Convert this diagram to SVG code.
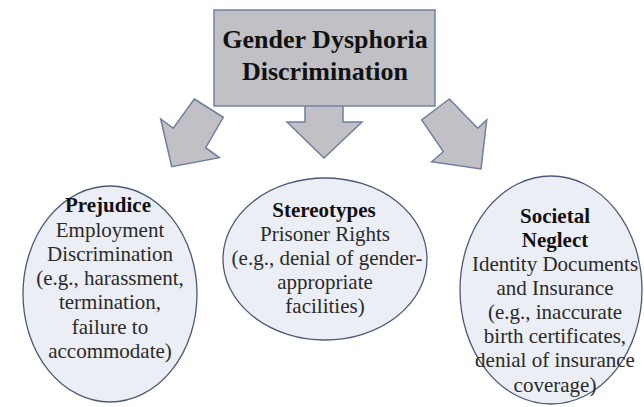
<svg xmlns="http://www.w3.org/2000/svg" width="644" height="407" viewBox="0 0 644 407">
<style>
.bg{fill:#ffffff}
.box{fill:#c1c1c5;stroke:#7182a3;stroke-width:1.5}
.arrow{fill:#c1c1c5;stroke:#6f7f9f;stroke-width:1.5;stroke-linejoin:miter}
.ell{fill:#eceef5;stroke:#4d5a76;stroke-width:1.3}
text{fill:#1e1e1e;text-anchor:middle}
.title{font-size:26px;font-weight:bold;fill:#111}
.head{font-size:21px;font-weight:bold;fill:#111}
.body{font-size:21px;fill:#2a2a2a}
</style>
<rect class="bg" x="0" y="0" width="644" height="407"/>
<g id="connectors">
<polygon class="arrow" points="305,105 343,105 343,122 362,122 324,158 287,122 305,122"/>
<polygon class="arrow" points="194.3,99 223.3,117.3 205.7,147.7 219.3,157.7 171.7,166.7 160.7,119 173.3,128.3"/>
<polygon class="arrow" points="449.3,99 421.7,120 443.3,151.7 431.7,161.7 481,169 486.7,120 477.7,128.3"/>
</g>
<g font-family="Liberation Serif, Times New Roman, DejaVu Serif, serif">
<g id="root">
<rect class="box" x="214" y="10" width="221" height="96"/>
<text class="title" x="325" y="48">Gender Dysphoria</text>
<text class="title" x="325" y="80">Discrimination</text>
</g>
<g id="prejudice">
<ellipse class="ell" cx="110" cy="294" rx="87" ry="108"/>
<text class="head" x="108" y="212">Prejudice</text>
<text class="body" x="110" y="237">Employment</text>
<text class="body" x="110" y="261">Discrimination</text>
<text class="body" x="110" y="285">(e.g., harassment,</text>
<text class="body" x="110" y="309">termination,</text>
<text class="body" x="110" y="334">failure to</text>
<text class="body" x="110" y="358">accommodate)</text>
</g>
<g id="stereotypes">
<ellipse class="ell" cx="325" cy="259" rx="102" ry="81"/>
<text class="head" x="324" y="217">Stereotypes</text>
<text class="body" x="325" y="241">Prisoner Rights</text>
<text class="body" x="327" y="265">(e.g., denial of gender-</text>
<text class="body" x="325" y="289">appropriate</text>
<text class="body" x="325" y="313">facilities)</text>
</g>
<g id="neglect">
<ellipse class="ell" cx="551" cy="290" rx="91" ry="114"/>
<text class="head" x="555" y="223">Societal</text>
<text class="head" x="555" y="247">Neglect</text>
<text class="body" x="555" y="271">Identity Documents</text>
<text class="body" x="555" y="295">and Insurance</text>
<text class="body" x="555" y="319">(e.g., inaccurate</text>
<text class="body" x="555" y="343">birth certificates,</text>
<text class="body" x="555" y="367">denial of insurance</text>
<text class="body" x="555" y="392">coverage)</text>
</g>
</g>
</svg>
